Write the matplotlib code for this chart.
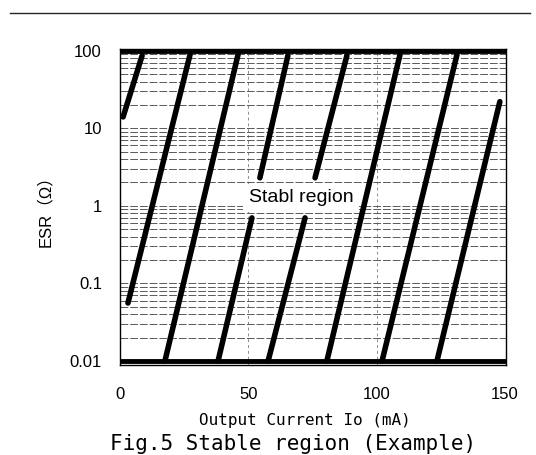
import matplotlib
matplotlib.use('Agg')
import matplotlib.pyplot as plt
from matplotlib.lines import Line2D
from matplotlib.ticker import FixedLocator, LogLocator, NullFormatter

# stable-region hatch segments (Io in mA, ESR in ohm)
seg_io_lo = [1.2, 3.1, 17.5, 54.5, 38.2, 76.0, 57.7, 80.6, 102.1, 123.5]
seg_esr_lo = [14, 0.056, 0.01, 2.3, 0.01, 2.3, 0.01, 0.01, 0.01, 0.01]
seg_io_hi = [8.6, 27.3, 46.0, 65.4, 51.4, 88.4, 72.1, 109.1, 131.3, 148.0]
seg_esr_hi = [86, 89, 89, 86, 0.70, 86, 0.70, 89, 89, 22]

# limits of the region (thick bars)
esr_limits = [100, 0.01]

x_ticks = [0, 50, 100, 150]
y_ticks = [0.01, 0.1, 1, 10, 100]
y_ticklabels = ['0.01', '0.1', '1', '10', '100']

fig = plt.figure(figsize=(5.36, 4.55), dpi=100)
ax = fig.add_axes([120 / 536, 1 - 365 / 455, 386 / 536, 316 / 455])

ax.set_yscale('log')
ax.set_xlim(0, 150.4)
ax.set_ylim(0.0089, 105)

# scan-like grid
ax.yaxis.set_minor_locator(LogLocator(base=10, subs=range(2, 10)))
ax.yaxis.set_minor_formatter(NullFormatter())
ax.grid(True, which='both', axis='y', color='0.35', lw=0.7, ls=(0, (8, 2)), zorder=1)
for xv in [50, 100]:
    ax.axvline(xv, color='0.55', lw=0.7, ls=(0, (3, 3)), zorder=1)

for yv in esr_limits:
    ax.axhline(yv, color='black', lw=3.5, zorder=3)

for x0, y0, x1, y1 in zip(seg_io_lo, seg_esr_lo, seg_io_hi, seg_esr_hi):
    ax.plot([x0, x1], [y0, y1], color='black', lw=4.0, solid_capstyle='round', zorder=3)

ax.text(70.5, 1.27, 'Stabl region', fontsize=14, family='Liberation Sans',
        ha='center', va='center', zorder=4,
        bbox=dict(facecolor='white', edgecolor='none', pad=4))

ax.xaxis.set_major_locator(FixedLocator(x_ticks))
ax.yaxis.set_major_locator(FixedLocator(y_ticks))
ax.set_yticklabels(y_ticklabels)
ax.tick_params(which='both', length=0)
ax.tick_params(axis='y', pad=13)
ax.tick_params(axis='x', pad=16)
for lab in ax.get_xticklabels() + ax.get_yticklabels():
    lab.set_family('Liberation Sans')
    lab.set_fontsize(12)

for sp in ax.spines.values():
    sp.set_linewidth(1.0)

fig.text(45 / 536, 1 - 207 / 455, 'ESR（Ω）', rotation=90, ha='center', va='center',
         fontsize=12, family=['Liberation Sans', 'Noto Sans CJK JP'])
fig.text(305 / 536, 1 - 421 / 455, 'Output Current Io (mA)', ha='center', va='center',
         fontsize=11.5, family='DejaVu Sans Mono')
fig.text(110 / 536, 1 - 450 / 455, 'Fig.5 Stable region (Example)', ha='left',
         va='baseline', fontsize=15, family='DejaVu Sans Mono')

# header rule of the page
fig.add_artist(Line2D([10 / 536, 530 / 536], [1 - 13 / 455, 1 - 13 / 455],
                      color='0.15', lw=1.0))

fig.savefig('out.png', dpi=100)
